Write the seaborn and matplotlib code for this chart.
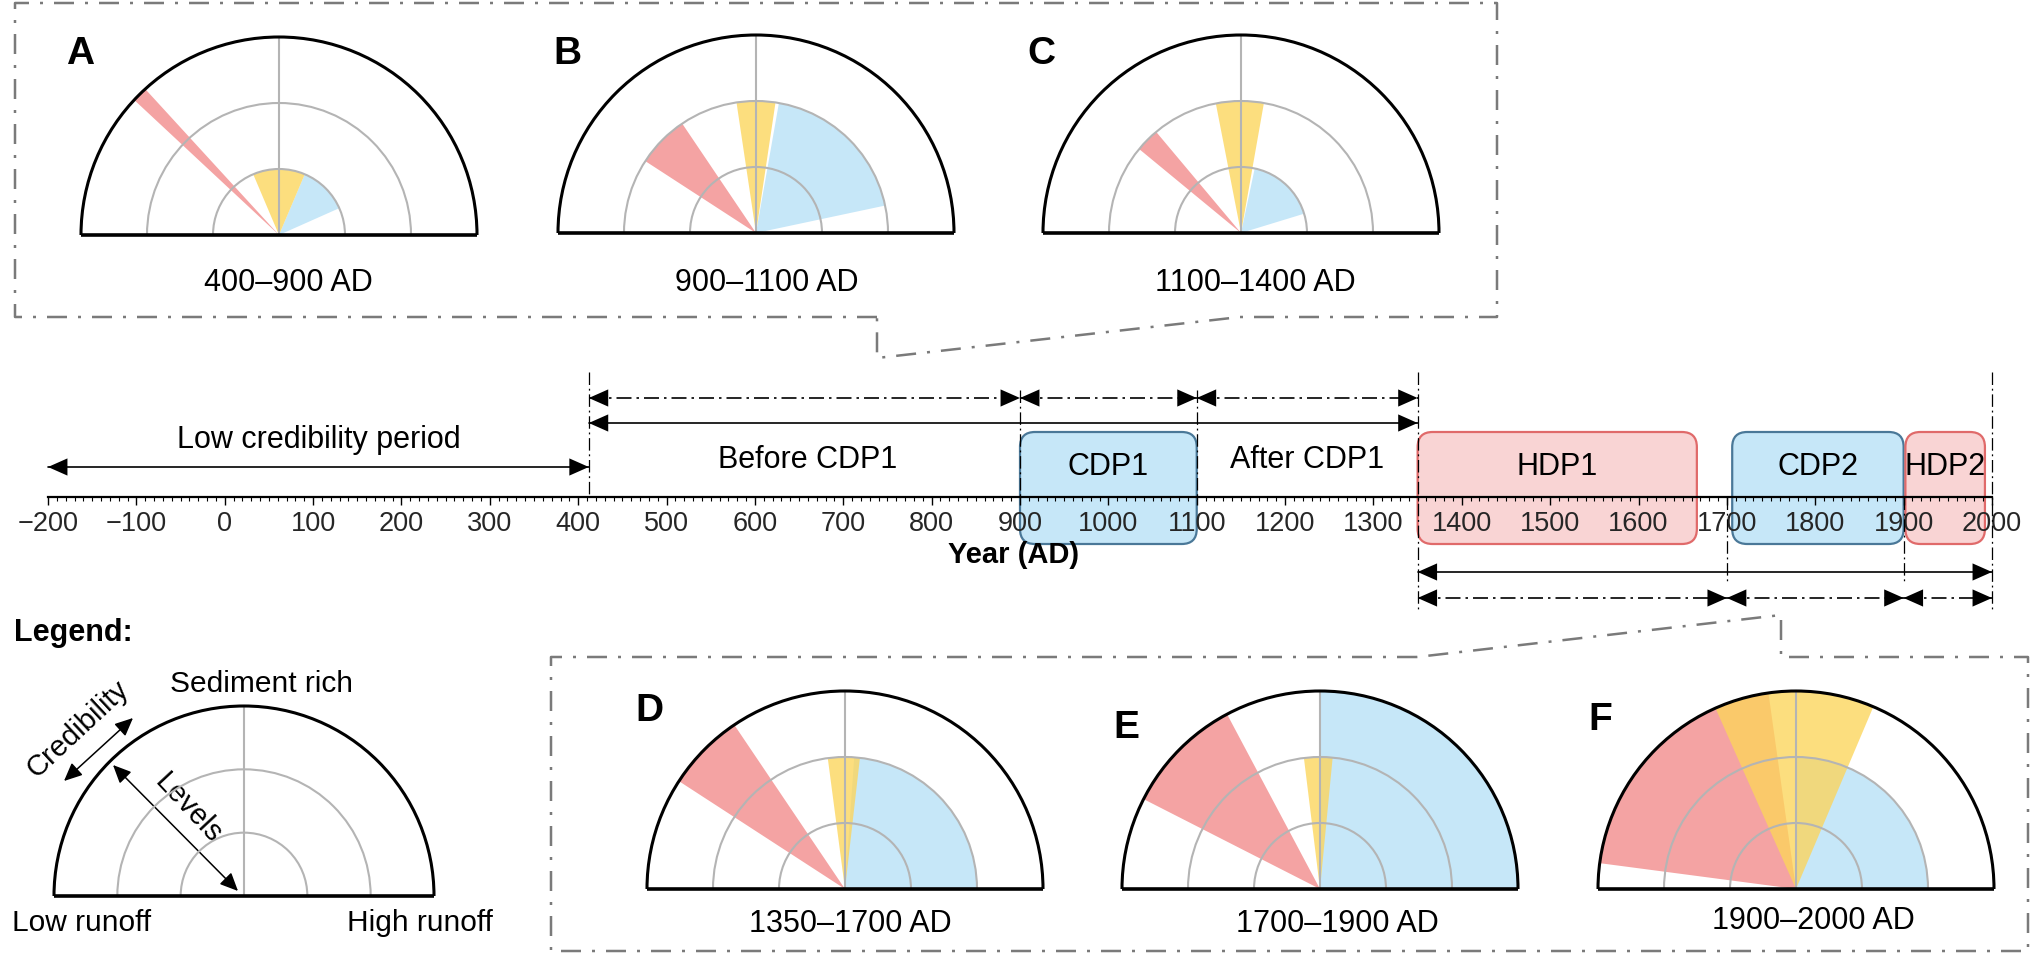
import matplotlib
matplotlib.use("Agg")
import matplotlib.pyplot as plt
import seaborn as sns
from matplotlib.patches import Wedge, Arc, FancyBboxPatch

# ------------------------------------------------------------------ data
year_min, year_max = -200, 2000
major_ticks = list(range(-200, 2001, 100))
minor_ticks = list(range(-200, 2001, 10))

low_cred_period = [(-200, 412)]
upper_dashdot_periods = [(412, 900), (900, 1100), (1100, 1350)]
upper_solid_periods = [(412, 1350)]
lower_solid_periods = [(1350, 2000)]
lower_dashdot_periods = [(1350, 1700), (1700, 1900), (1900, 2000)]

period_labels = ["Low credibility period", "Before CDP1", "After CDP1"]
period_label_years = [106, 660, 1225]

box_names = ["CDP1", "HDP1", "CDP2", "HDP2"]
box_start = [900, 1350, 1706, 1902]
box_end = [1100, 1666, 1900, 1992]
box_type = ["cold", "hot", "cold", "hot"]

panel_letters = ["A", "B", "C", "D", "E", "F"]
panel_periods = ["400–900 AD", "900–1100 AD", "1100–1400 AD",
                 "1350–1700 AD", "1700–1900 AD", "1900–2000 AD"]

# wedges per panel: (start angle, end angle, level 1-3); 0 deg = high runoff, 180 deg = low runoff
red_wedges = [(132.5, 137, 3), (124, 147, 2), (130, 140.5, 2),
              (124, 147, 3), (118, 153, 3), (98, 172.5, 3)]
yellow_wedges = [(67, 113, 1), (81.5, 98.5, 2), (80, 101, 2),
                 (83.5, 97.5, 2), (84.5, 97, 2), (67, 114, 3)]
blue_wedges = [(24, 67, 1), (12, 80, 2), (17, 78, 1),
               (0, 86, 2), (0, 90, 3), (0, 90, 2)]

legend_texts = ["Sediment rich", "Low runoff", "High runoff", "Credibility", "Levels"]

# ------------------------------------------------------------------ style
sns.set_theme(style="ticks")
plt.rcParams["font.family"] = ["Liberation Sans", "DejaVu Sans"]
plt.rcParams["text.color"] = "black"

W, H = 2032, 958
fig = plt.figure(figsize=(W / 100, H / 100), dpi=100)
fig.patch.set_facecolor("white")

RED = "#f4a3a3"
YEL = "#fcd55a"
BLUE = "#c6e7f8"
GRAY = "#b4b4b4"
BOXGRAY = "#7a7a7a"

# canvas axes in pixel units (y downwards)
cv = fig.add_axes([0, 0, 1, 1])
cv.set_xlim(0, W)
cv.set_ylim(H, 0)
cv.axis("off")

box_ls = (0, (8, 4.4, 1.2, 4.4))
top_box = [(877, 317), (15, 317), (15, 3), (1497, 3), (1497, 317), (1240, 317), (877, 358), (877, 317)]
bot_box = [(1417, 657), (551, 657), (551, 951), (2028, 951), (2028, 657), (1781, 657), (1781, 615), (1417, 657)]
for pts in (top_box, bot_box):
    xs, ys = zip(*pts)
    cv.plot(xs, ys, color=BOXGRAY, lw=1.8, ls=box_ls)


def draw_panel(cx, cy, R, idx=None):
    ax = fig.add_axes([(cx - 1.1 * R) / W, (H - cy - 0.1 * R) / H, 2.2 * R / W, 1.2 * R / H])
    ax.set_xlim(-1.1, 1.1)
    ax.set_ylim(-0.1, 1.1)
    ax.axis("off")
    if idx is not None:
        for (t1, t2, lev), col, a, z in ((blue_wedges[idx], BLUE, 1.0, 1),
                                          (red_wedges[idx], RED, 1.0, 1.2),
                                          (yellow_wedges[idx], YEL, 0.78, 1.4)):
            ax.add_patch(Wedge((0, 0), lev / 3, t1, t2, facecolor=col, edgecolor="none", alpha=a, zorder=z))
    for r in (1 / 3, 2 / 3):
        ax.add_patch(Arc((0, 0), 2 * r, 2 * r, theta1=0, theta2=180, color=GRAY, lw=1.5, zorder=3))
    ax.plot([0, 0], [0, 1], color=GRAY, lw=1.5, zorder=3)
    ax.add_patch(Arc((0, 0), 2, 2, theta1=0, theta2=180, color="black", lw=2.2, zorder=4))
    ax.plot([-1, 1], [0, 0], color="black", lw=2.6, zorder=4, solid_capstyle="butt")
    return ax


panel_centers = [(279, 235), (756, 233), (1241, 233), (845, 889), (1320, 889), (1796, 889)]
letter_pos = [(80, 54), (567, 54), (1041, 54), (649, 711), (1126, 728), (1600, 720)]
caption_pos = [(288, 283), (767, 283), (1255, 283), (850, 924), (1337, 924), (1813, 921)]
for i in range(6):
    cx, cy = panel_centers[i]
    draw_panel(cx, cy, 198, i)
    cv.text(*letter_pos[i], panel_letters[i], fontsize=28, fontweight="bold", ha="center", va="center")
    cv.text(*caption_pos[i], panel_periods[i], fontsize=22, ha="center", va="center")

# ------------------------------------------------------------------ legend
cv.text(14, 633, "Legend:", fontsize=22, fontweight="bold", ha="left", va="center")
draw_panel(244, 896, 190)
cv.text(261, 684, legend_texts[0], fontsize=21.5, ha="center", va="center")
cv.text(82, 923, legend_texts[1], fontsize=21.5, ha="center", va="center")
cv.text(420, 923, legend_texts[2], fontsize=21.5, ha="center", va="center")
cv.annotate("", xy=(133, 718), xytext=(64, 781),
            arrowprops=dict(arrowstyle="<|-|>,head_length=11,head_width=5", mutation_scale=1,
                            color="black", lw=1.1, shrinkA=0, shrinkB=0))
cv.annotate("", xy=(238, 891), xytext=(113, 765),
            arrowprops=dict(arrowstyle="<|-|>,head_length=11,head_width=5", mutation_scale=1,
                            color="black", lw=1.1, shrinkA=0, shrinkB=0))
cv.text(78, 729, legend_texts[3], fontsize=21, rotation=43, ha="center", va="center", rotation_mode="anchor")
cv.text(188, 808, legend_texts[4], fontsize=21, rotation=-47, ha="center", va="center", rotation_mode="anchor")

# ------------------------------------------------------------------ timeline
tl = fig.add_axes([48 / W, (H - 620) / H, (1992 - 48) / W, 260 / H])
tl.set_xlim(year_min, year_max)
tl.set_ylim(620, 360)
tl.patch.set_alpha(0)
for s in ("left", "right", "top"):
    tl.spines[s].set_visible(False)
tl.spines["bottom"].set_position(("data", 497))
tl.spines["bottom"].set_linewidth(1.6)
tl.spines["bottom"].set_color("black")
tl.set_xticks(major_ticks)
tl.set_xticks(minor_ticks, minor=True)
tl.tick_params(axis="x", which="major", length=6, width=1.0, direction="out", color="black",
               labelsize=19.5, pad=4, bottom=True)
tl.tick_params(axis="x", which="minor", length=3.2, width=0.8, direction="out", color="black", bottom=True)
tl.set_yticks([])
tl.set_xlabel("")

px_per_year = (1992 - 48) / (year_max - year_min)
for name, s, e, kind in zip(box_names, box_start, box_end, box_type):
    fc, ec = (BLUE, "#4a7898") if kind == "cold" else ("#f9d4d4", "#e06a6a")
    tl.add_patch(FancyBboxPatch((s, 432), e - s, 112, boxstyle="round,pad=0,rounding_size=17",
                                mutation_aspect=px_per_year, facecolor=fc, edgecolor=ec, lw=1.6,
                                zorder=0.5, clip_on=False))
    tl.text((s + e) / 2, 467, name, fontsize=22, ha="center", va="center", zorder=5)

for lab, x, y in zip(period_labels, period_label_years, [440, 460, 460]):
    tl.text(x, y, lab, fontsize=22, ha="center", va="center")

tl.text(893, 555, "Year (AD)", fontsize=21, fontweight="bold", ha="center", va="center")

dd = (0, (9, 3, 1.5, 3))
head = "<|-|>,head_length=14,head_width=6.2"


def h_arrow(x1, x2, y, ls):
    tl.plot([x1, x2], [y, y], color="black", lw=1.2, ls=ls, clip_on=False)
    tl.annotate("", xy=(x2, y), xytext=(x1, y),
                arrowprops=dict(arrowstyle=head, mutation_scale=1, color="black", lw=0,
                                shrinkA=0, shrinkB=0), annotation_clip=False)


for s, e in low_cred_period:
    h_arrow(s, e, 467, "-")
for s, e in upper_dashdot_periods:
    h_arrow(s, e, 398, dd)
for s, e in upper_solid_periods:
    h_arrow(s, e, 423, "-")
for s, e in lower_solid_periods:
    h_arrow(s, e, 572, "-")
for s, e in lower_dashdot_periods:
    h_arrow(s, e, 598, dd)

vlines = [(412, 372, 497), (900, 390, 497), (1100, 390, 497), (1350, 372, 610),
          (1700, 497, 584), (1900, 497, 584), (2000, 372, 610)]
for x, y1, y2 in vlines:
    tl.plot([x, x], [y1, y2], color="black", lw=0.9, ls=(0, (10, 3, 1.5, 3)), clip_on=False, zorder=3)

fig.savefig("out.png", dpi=100)
